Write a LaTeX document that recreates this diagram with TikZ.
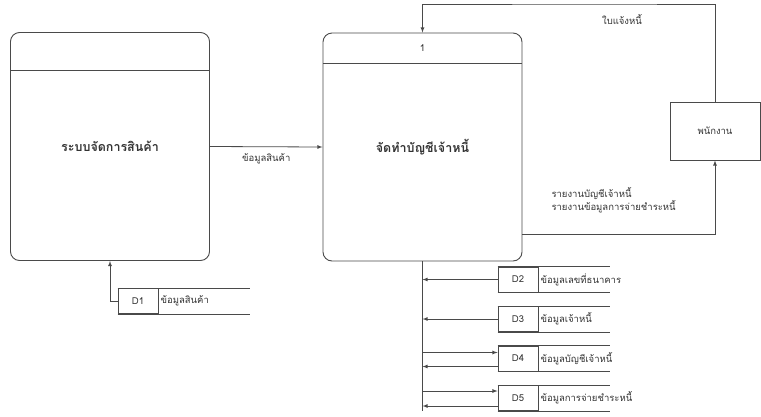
\documentclass[tikz,border=0pt]{standalone}
\usepackage{fontspec}
\setmainfont[Script=Thai]{Loma}
\usetikzlibrary{calc,shapes,positioning,arrows}

\definecolor{linegray}{HTML}{4A4A4A}
\definecolor{textgray}{HTML}{333333}

\begin{document}
\begin{tikzpicture}[x=1pt,y=-1pt,
      every node/.style={text=textgray, font=\fontsize{9.5}{13}\selectfont},
      process/.style={draw=linegray, line width=0.9pt, rounded corners=9pt, minimum width=199pt, minimum height=228pt, inner sep=0pt, font=\fontsize{12.5}{15}\selectfont\bfseries},
      entity/.style={draw=linegray, line width=0.8pt, minimum width=90pt, minimum height=58pt},
      storeid/.style={draw=linegray, line width=0.8pt, minimum width=40pt, minimum height=25pt, inner sep=0pt},
      storename/.style={anchor=west, inner sep=2pt},
      clear/.style={draw=none, fill=none, align=left},
      flow/.style={draw=linegray, line width=0.8pt, ->, >=latex},
      plain/.style={draw=linegray, line width=0.8pt}
   ]
      \useasboundingbox (0,0) rectangle (761,416);

      % processes
      \node[process] (sys) at (110,146.5) {ระบบจัดการสินค้า};
      \draw[plain] (10,70) -- (210,70);
      \node[process] (acc) at (422.5,147) {จัดทำบัญชีเจ้าหนี้};
      \draw[plain] (323,63) -- (522,63);
      \node (accno) at (422.5,48) {1};

      % external entity
      \node[entity] (emp) at (715,131) {พนักงาน};

      % data stores
      \node[storeid] (d1) at (138,301) {D1};
      \node[storename, right=0pt of d1] (d1n) {ข้อมูลสินค้า};
      \draw[plain] (d1.north west) -- ++(132,0);
      \draw[plain] (d1.south west) -- ++(132,0);

      \node[storeid] (d2) at (518,279.5) {D2};
      \node[storename, right=0pt of d2] (d2n) {ข้อมูลเลขที่ธนาคาร};
      \draw[plain] (d2.north west) -- ++(112,0);
      \draw[plain] (d2.south west) -- ++(112,0);

      \node[storeid] (d3) at (518,319) {D3};
      \node[storename, right=0pt of d3] (d3n) {ข้อมูลเจ้าหนี้};
      \draw[plain] (d3.north west) -- ++(112,0);
      \draw[plain] (d3.south west) -- ++(112,0);

      \node[storeid] (d4) at (518,358.5) {D4};
      \node[storename, right=0pt of d4] (d4n) {ข้อมูลบัญชีเจ้าหนี้};
      \draw[plain] (d4.north west) -- ++(112,0);
      \draw[plain] (d4.south west) -- ++(112,0);

      \node[storeid] (d5) at (518,398) {D5};
      \node[storename, right=0pt of d5] (d5n) {ข้อมูลการจ่ายชำระหนี้};
      \draw[plain] (d5.north west) -- ++(112,0);
      \draw[plain] (d5.south west) -- ++(112,0);

      % flows
      \draw[flow] (sys.east) -- node[clear, below=3pt] {ข้อมูลสินค้า} (acc.west);
      \draw[flow] (d1.west) -| (sys.south);

      \coordinate (top) at (600,4);
      \draw[flow] (emp.north) |- (top) -| (acc.north);
      \node[clear] (invoice) at (622,19) {ใบแจ้งหนี้};

      \draw[flow] ([yshift=27pt]acc.south east) -| (emp.south);
      \node[clear, anchor=west] (reports) at (548,200) {รายงานบัญชีเจ้าหนี้\\รายงานข้อมูลการจ่ายชำระหนี้};

      \draw[plain] (acc.south) -- (acc.south |- d5.south);
      \draw[flow] (d2.west) -- (d2.west -| acc.south);
      \draw[flow] (d3.west) -- (d3.west -| acc.south);
      \draw[flow] ([yshift=6pt]d4.west -| acc.south) -- ([yshift=6pt]d4.west);
      \draw[flow] ([yshift=-8pt]d4.west) -- ([yshift=-8pt]d4.west -| acc.south);
      \draw[flow] ([yshift=7pt]d5.west -| acc.south) -- ([yshift=7pt]d5.west);
      \draw[flow] ([yshift=-8pt]d5.west) -- ([yshift=-8pt]d5.west -| acc.south);
   \end{tikzpicture}
\end{document}
